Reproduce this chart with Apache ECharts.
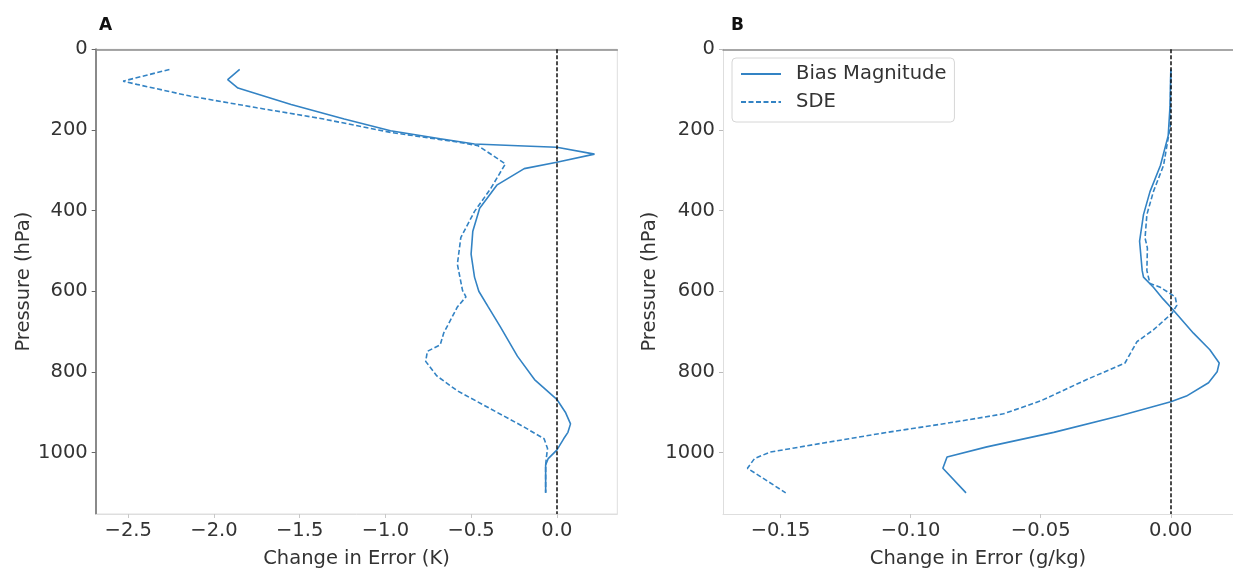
<!DOCTYPE html>
<html>
<head>
<meta charset="utf-8">
<script src="https://cdn.jsdelivr.net/npm/echarts@6/dist/echarts.min.js"></script>
<style>
html,body{margin:0;padding:0;background:#fff;}
#c{width:1233px;height:574px;}
</style>
</head>
<body>
<div id="c"></div>
<script>
// ---- Data ----
// Panel A: temperature (K)
const pressureA_bias = [50, 75, 96, 137, 173, 202, 222, 235, 240, 243, 260, 280, 296, 337, 394, 451, 508, 565, 600, 639, 688, 761, 819, 868, 900, 929, 950, 966, 994, 1015, 1031, 1100];
const tempBias = [-1.85, -1.92, -1.86, -1.55, -1.24, -0.97, -0.68, -0.48, -0.19, 0.0, 0.22, 0.0, -0.19, -0.35, -0.45, -0.49, -0.50, -0.48, -0.455, -0.40, -0.33, -0.23, -0.13, 0.0, 0.05, 0.08, 0.065, 0.04, 0.0, -0.05, -0.065, -0.065];
const pressureA_sde = [50, 79, 87, 116, 145, 173, 206, 230, 239, 284, 345, 402, 467, 533, 598, 614, 639, 704, 733, 749, 774, 810, 847, 892, 937, 966, 990, 1010, 1031, 1100];
const tempSDE = [-2.26, -2.53, -2.45, -2.14, -1.75, -1.36, -0.97, -0.58, -0.46, -0.30, -0.385, -0.48, -0.56, -0.58, -0.55, -0.53, -0.58, -0.66, -0.68, -0.755, -0.765, -0.70, -0.58, -0.385, -0.19, -0.074, -0.054, -0.06, -0.065, -0.065];
// Panel B: humidity (g/kg)
const pressureB_bias = [50, 141, 214, 288, 353, 410, 476, 549, 565, 590, 619, 647, 704, 745, 778, 800, 827, 860, 874, 909, 950, 986, 1011, 1039, 1100];
const humBias = [0.0, -0.0003, -0.001, -0.004, -0.008, -0.0105, -0.012, -0.011, -0.0105, -0.0067, -0.003, 0.001, 0.0087, 0.015, 0.0186, 0.0178, 0.0145, 0.006, 0.0, -0.0195, -0.045, -0.0707, -0.086, -0.0876, -0.0787];
const pressureB_sde = [50, 190, 288, 353, 410, 468, 493, 549, 581, 590, 614, 635, 655, 696, 725, 778, 819, 872, 904, 925, 950, 978, 999, 1015, 1039, 1100];
const humSDE = [0.0, -0.0002, -0.0028, -0.0067, -0.0092, -0.0099, -0.009, -0.0092, -0.008, -0.0041, 0.0017, 0.0023, 0.0004, -0.0067, -0.013, -0.0176, -0.0323, -0.050, -0.0643, -0.0836, -0.109, -0.135, -0.154, -0.160, -0.1627, -0.148];
// Tick labels
const pressureTicks = [0, 200, 400, 600, 800, 1000];
const tempTicks = [-2.5, -2.0, -1.5, -1.0, -0.5, 0.0];
const humTicks = [-0.15, -0.10, -0.05, 0.00];
const seriesNames = ['Bias Magnitude', 'SDE'];
const panelLabels = ['A', 'B'];

// ---- Chart ----
const FONT = 'DejaVu Sans';
const FS = 19.5;
const BLUE = '#3383c4';
const TXT = '#333';
const DARK = '#8a8a8a';
const LIGHT = '#dedede';

function pairs(xs, ps){ return xs.map((x,i)=>[x, ps[i]]); }
function fmt(d){ return v => (v < 0 ? '\u2212' : '') + Math.abs(v).toFixed(d); }

function bottomX(gi, min, max, ticks, dec, name){
  return {
    type:'value', gridIndex:gi, position:'bottom', min:min, max:max,
    splitLine:{show:false},
    axisLine:{show:true, onZero:false, lineStyle:{color:LIGHT, width:1}},
    axisTick:{show:true, length:4, customValues:ticks, lineStyle:{color:'#c8c8c8'}},
    axisLabel:{customValues:ticks, formatter:fmt(dec), color:TXT, fontSize:FS, fontFamily:FONT, margin:7},
    name:name, nameLocation:'middle', nameGap:35,
    nameTextStyle:{color:TXT, fontSize:FS, fontFamily:FONT}
  };
}
function topX(gi, min, max){
  return {
    type:'value', gridIndex:gi, position:'top', min:min, max:max,
    splitLine:{show:false}, axisTick:{show:false}, axisLabel:{show:false},
    axisLine:{show:true, onZero:false, lineStyle:{color:DARK, width:1.5}}
  };
}
function leftY(gi, lineColor, tickColor){
  return {
    type:'value', gridIndex:gi, inverse:true, min:0, max:1152.5,
    splitLine:{show:false},
    axisLine:{show:true, onZero:false, lineStyle:{color:lineColor, width:lineColor===DARK?2:1}},
    axisTick:{show:true, length:4, customValues:pressureTicks, lineStyle:{color:tickColor}},
    axisLabel:{customValues:pressureTicks, formatter:v => String(v), color:TXT, fontSize:FS, fontFamily:FONT, margin:8},
    name:'Pressure (hPa)', nameLocation:'middle', nameRotate:90, nameGap:gi===0?62:63,
    nameTextStyle:{color:TXT, fontSize:FS, fontFamily:FONT}
  };
}
function lineSeries(name, xi, yi, data, dashed, withZero){
  const s = {
    name:name, type:'line', xAxisIndex:xi, yAxisIndex:yi, data:data,
    showSymbol:false, symbol:'none', smooth:false, silent:true,
    lineStyle:{color:BLUE, width:1.6, type: dashed ? [5,2.5] : 'solid'},
    itemStyle:{color:BLUE},
    z:3
  };
  if (withZero) {
    s.markLine = {
      silent:true, symbol:'none', label:{show:false}, animation:false,
      lineStyle:{color:'#111', type:[4,2], width:1.5},
      data:[{xAxis:0}]
    };
  }
  return s;
}

const chart = echarts.init(document.getElementById('c'), null, {renderer:'canvas'});
chart.setOption({
  animation:false,
  backgroundColor:'#fff',
  textStyle:{fontFamily:FONT},
  title:[
    {text:panelLabels[0], left:94, top:12, textStyle:{fontSize:17, fontWeight:'bold', color:'#111', fontFamily:FONT}},
    {text:panelLabels[1], left:726, top:12, textStyle:{fontSize:17, fontWeight:'bold', color:'#111', fontFamily:FONT}}
  ],
  legend:{
    data:seriesNames, orient:'vertical', left:732, top:58,
    itemWidth:40, itemHeight:20, itemGap:8,
    padding:[6,8,10,8],
    borderColor:'#d6d6d6', borderWidth:1, borderRadius:4, backgroundColor:'#fff',
    itemStyle:{color:'rgba(0,0,0,0)', borderWidth:0, opacity:0},
    textStyle:{color:TXT, fontSize:FS, fontFamily:FONT, padding:[0,0,0,10]},
    selectedMode:false
  },
  grid:[
    {left:95.7, top:49.3, width:521.6, height:470.7, show:true, borderColor:LIGHT, borderWidth:1, containLabel:false},
    {left:723, top:49.3, width:510, height:470.7, show:false, containLabel:false}
  ],
  xAxis:[
    bottomX(0, -2.69, 0.353, tempTicks, 1, 'Change in Error (K)'),
    bottomX(1, -0.1721, 0.0239, humTicks, 2, 'Change in Error (g/kg)'),
    topX(0, -2.69, 0.353),
    topX(1, -0.1721, 0.0239)
  ],
  yAxis:[
    leftY(0, DARK, '#666'),
    leftY(1, LIGHT, '#bbb')
  ],
  series:[
    lineSeries(seriesNames[0], 0, 0, pairs(tempBias, pressureA_bias), false, true),
    lineSeries(seriesNames[1], 0, 0, pairs(tempSDE, pressureA_sde), true, false),
    lineSeries(seriesNames[0], 1, 1, pairs(humBias, pressureB_bias), false, true),
    lineSeries(seriesNames[1], 1, 1, pairs(humSDE, pressureB_sde), true, false)
  ]
});
</script>
</body>
</html>
